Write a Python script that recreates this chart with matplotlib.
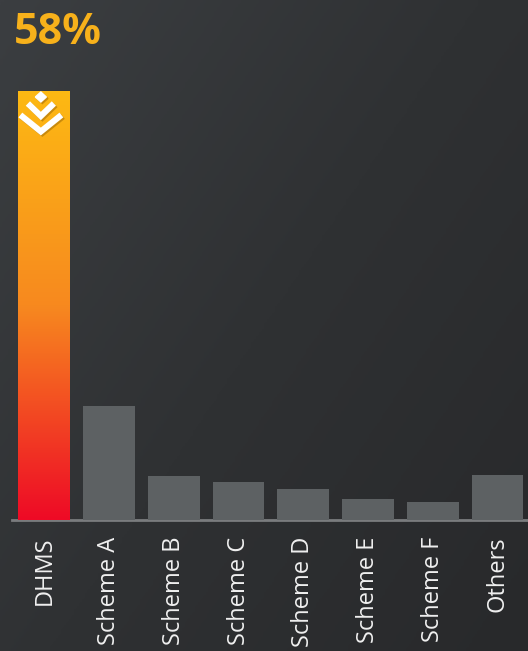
import numpy as np
import matplotlib
matplotlib.use("Agg")
import matplotlib.pyplot as plt
from matplotlib.colors import LinearSegmentedColormap
from matplotlib.patches import Polygon
from matplotlib.transforms import IdentityTransform

# data
categories = ["DHMS", "Scheme A", "Scheme B", "Scheme C", "Scheme D", "Scheme E", "Scheme F", "Others"]
shares = [58, 15.4, 5.9, 5.2, 4.2, 2.8, 2.4, 6.1]
headline = "58%"

W, H, DPI = 528, 651, 100
fig = plt.figure(figsize=(W / DPI, H / DPI), dpi=DPI)

# dark diagonal gradient background
bg = fig.add_axes([0, 0, 1, 1])
bg.set_axis_off()
yy, xx = np.mgrid[0:1:200j, 0:1:200j]
t = np.clip(0.55 * xx + 0.45 * yy, 0, 1)
bg_cmap = LinearSegmentedColormap.from_list("bg", ["#3b3e41", "#2f3133", "#28292b"])
bg.imshow(t, cmap=bg_cmap, aspect="auto", extent=[0, 1, 0, 1], origin="upper")

ax = fig.add_axes([12 / W, 131 / H, 516 / W, 429 / H])
ax.patch.set_alpha(0)
x = np.arange(len(categories))
colors = ["none"] + ["#5d6163"] * (len(categories) - 1)
bars = ax.bar(x, shares, width=0.8, color=colors, zorder=2)

# yellow -> red gradient on the lead bar
lead = bars[0]
grad_cmap = LinearSegmentedColormap.from_list("lead", ["#fdb913", "#f7891f", "#ee0a26"])
bx, bw, bh = lead.get_x(), lead.get_width(), lead.get_height()
img = ax.imshow(np.linspace(0, 1, 256).reshape(-1, 1), cmap=grad_cmap, aspect="auto",
                extent=[bx, bx + bw, 0, bh], origin="upper", zorder=2)
img.set_clip_path(lead)
ax.set_xlim(-0.5, 7.47)
ax.set_ylim(0, shares[0])

for s in ["top", "right", "left"]:
    ax.spines[s].set_visible(False)
ax.spines["bottom"].set_color("#7a7c7e")
ax.spines["bottom"].set_linewidth(2)
ax.spines["bottom"].set_zorder(1)
ax.set_yticks([])
ax.set_xticks(x)
ax.set_xticklabels(categories, rotation=90, fontsize=17, color="#f0f0f0",
                   family=["Open Sans", "DejaVu Sans"], va="top", ha="center")
ax.tick_params(axis="x", length=0, pad=12)

# chevron badge at the top of the lead bar, drawn in pixel offsets
fig.canvas.draw()
anchor = ax.transData.transform((0, shares[0]))


def badge(dx, dy, col, z):
    tr = IdentityTransform()

    def P(pts):
        return [(anchor[0] - 3.5 + px + dx, anchor[1] + py + dy) for px, py in pts]

    ax.add_patch(Polygon(P([(0, -1), (5.5, -6), (0, -11), (-5.5, -6)]), closed=True,
                         color=col, zorder=z, transform=tr, clip_on=False))
    for pts in ([(-13, -12.5), (0, -25), (13, -12.5)], [(-20.5, -24), (0, -40.5), (20.5, -24)]):
        xs, ys = zip(*P(pts))
        ax.plot(xs, ys, color=col, lw=4.4, solid_capstyle="butt",
                solid_joinstyle="miter", transform=tr, zorder=z, clip_on=False)


badge(1.5, -1.5, "#c98a0c", 3)
badge(0, 0, "white", 4)

fig.text(14 / W, 1 - 11 / H, headline, color="#f7b11b", fontsize=31, fontweight="bold",
         family=["Open Sans", "DejaVu Sans"], va="top", ha="left")

fig.savefig("out.png", dpi=DPI)
